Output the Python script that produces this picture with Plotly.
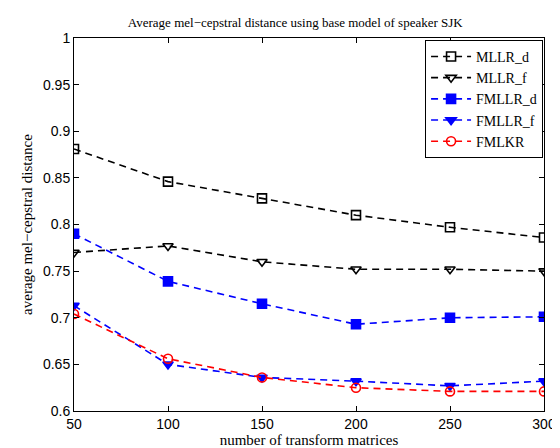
import plotly.graph_objects as go

x_vals = [50, 100, 150, 200, 250, 300]
mllr_d = [0.881, 0.846, 0.828, 0.810, 0.797, 0.786]
mllr_f = [0.770, 0.777, 0.760, 0.752, 0.752, 0.750]
fmllr_d = [0.790, 0.739, 0.715, 0.693, 0.700, 0.701]
fmllr_f = [0.713, 0.650, 0.636, 0.632, 0.627, 0.632]
fmlkr = [0.704, 0.656, 0.636, 0.625, 0.621, 0.621]

series = [
    ("MLLR_d", mllr_d, "black", "square-open"),
    ("MLLR_f", mllr_f, "black", "triangle-down-open"),
    ("FMLLR_d", fmllr_d, "blue", "square"),
    ("FMLLR_f", fmllr_f, "blue", "triangle-down"),
    ("FMLKR", fmlkr, "red", "circle-open"),
]

fig = go.Figure()
for name, vals, col, sym in series:
    fig.add_trace(go.Scatter(
        x=x_vals, y=vals, name=name, mode="lines+markers",
        line=dict(color=col, width=1.6, dash="7px,5px"),
        marker=dict(symbol=sym, size=9, color=col, line=dict(color=col, width=1.6)),
    ))

axis_common = dict(
    showgrid=False, zeroline=False, showline=True, linecolor="black", linewidth=1,
    mirror="ticks", ticks="inside", ticklen=5, tickcolor="black",
    tickfont=dict(family="Liberation Sans, Arial", size=14, color="black"),
)

fig.update_layout(
    width=560, height=448,
    margin=dict(l=66, r=14, t=30, b=37),
    paper_bgcolor="white", plot_bgcolor="white",
    title=dict(text="Average mel\u2212cepstral distance using base model of speaker SJK",
               x=0.513, xanchor="center", y=0.967, yanchor="middle",
               font=dict(family="Liberation Serif, Times New Roman", size=13, color="black")),
    xaxis=dict(range=[50, 300], tickvals=[50, 100, 150, 200, 250, 300],
               title=dict(text="number of transform matrices", standoff=2,
                          font=dict(family="Liberation Serif, Times New Roman", size=15, color="black")),
               **axis_common),
    yaxis=dict(range=[0.6, 1.0], tickvals=[0.6, 0.65, 0.7, 0.75, 0.8, 0.85, 0.9, 0.95, 1.0],
               ticktext=["0.6", "0.65", "0.7", "0.75", "0.8", "0.85", "0.9", "0.95", "1"],
               title=dict(text="average mel\u2212cepstral distance", standoff=6,
                          font=dict(family="Liberation Serif, Times New Roman", size=15, color="black")),
               **axis_common),
    legend=dict(x=0.998, y=0.995, xanchor="right", yanchor="top",
                bgcolor="white", bordercolor="black", borderwidth=1,
                font=dict(family="Liberation Serif, Times New Roman", size=14, color="black"),
                tracegroupgap=0, itemsizing="trace", itemwidth=40),
    showlegend=True,
)

fig.write_html("out.html")
